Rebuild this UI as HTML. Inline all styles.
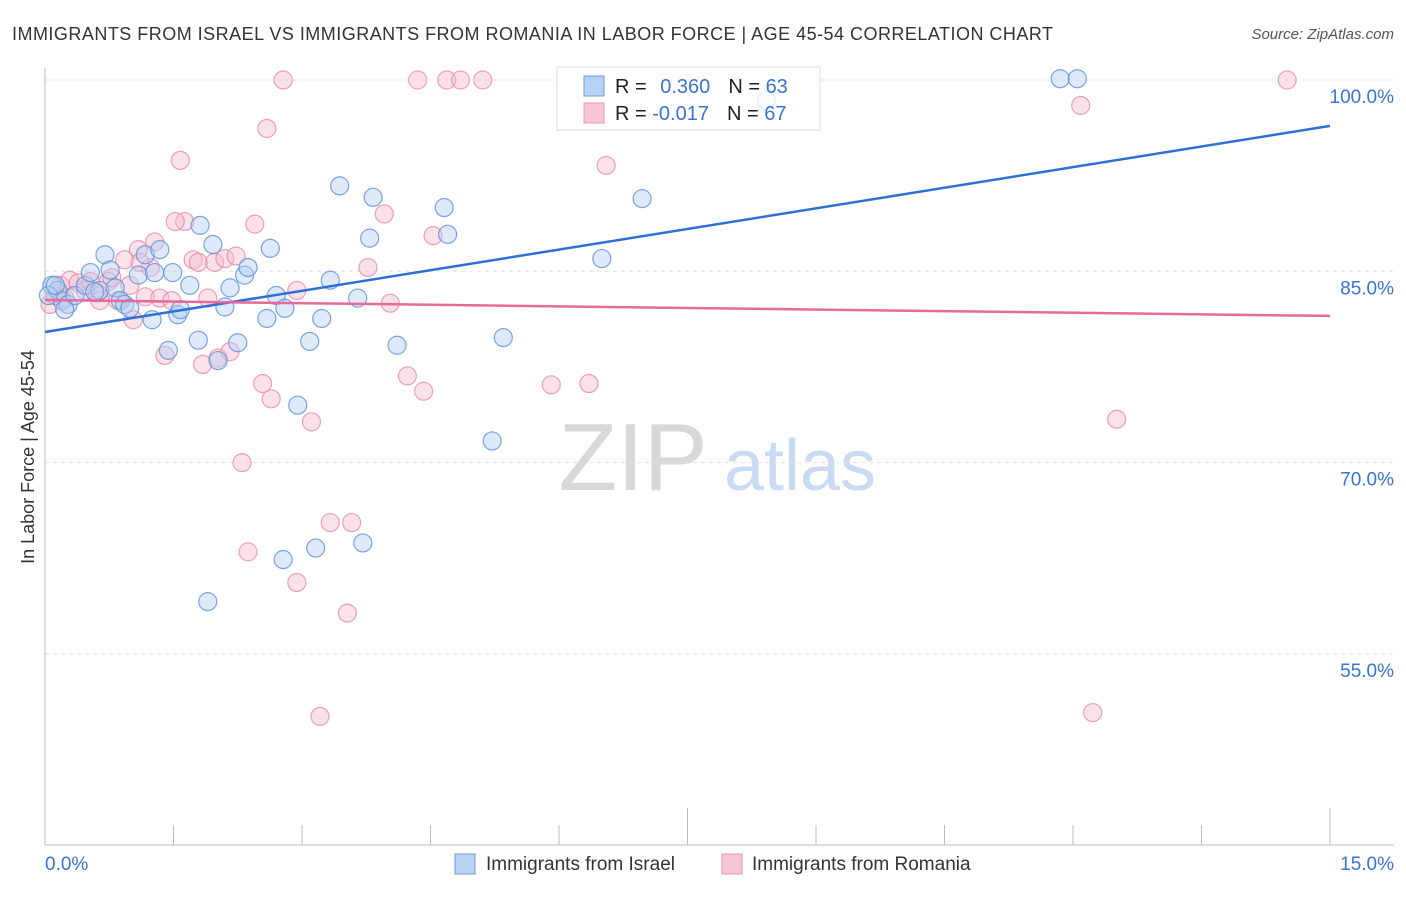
<!DOCTYPE html>
<html><head><meta charset="utf-8"><style>
body{margin:0;background:#fff;font-family:"Liberation Sans",sans-serif}
svg text{font-family:"Liberation Sans",sans-serif}
</style></head><body>
<svg id="chart" width="1406" height="892" xmlns="http://www.w3.org/2000/svg">
<text x="12" y="40" font-size="18" fill="#333" textLength="1041" lengthAdjust="spacing">IMMIGRANTS FROM ISRAEL VS IMMIGRANTS FROM ROMANIA IN LABOR FORCE | AGE 45-54 CORRELATION CHART</text>
<text x="1394" y="39" font-size="15" fill="#555" font-style="italic" text-anchor="end">Source: ZipAtlas.com</text>
<g>
<text x="633" y="490" font-size="96" fill="#d8d8d8" font-family="Liberation Serif" text-anchor="middle">ZIP</text>
<text x="800" y="490" font-size="72" fill="#c9daf2" text-anchor="middle">atlas</text>
</g>
<g id="grid"></g>
<g id="axes"></g>
<g id="points"></g>
<g id="lines"></g>
<text transform="translate(34,457) rotate(-90)" font-size="18" fill="#333" text-anchor="middle">In Labor Force | Age 45-54</text>
<text x="45" y="870" font-size="19" fill="#3a74d0">0.0%</text>
<text x="1394" y="870" font-size="19" fill="#3a74d0" text-anchor="end">15.0%</text>
<g>
<rect x="557" y="67" width="263" height="63" fill="#fff" fill-opacity="0.8" stroke="#ddd"/>
<rect x="584" y="76" width="20" height="20" fill="#b8d2f4" stroke="#6d9be0"/>
<rect x="584" y="103" width="20" height="20" fill="#f8c6d6" stroke="#eb96b3"/>
<text x="615" y="93" font-size="20" fill="#222">R = <tspan fill="#3a74d0" dx="8">0.360</tspan><tspan dx="18" fill="#222">N = </tspan><tspan fill="#3a74d0">63</tspan></text>
<text x="615" y="120" font-size="20" fill="#222">R = <tspan fill="#3a74d0">-0.017</tspan><tspan dx="18" fill="#222">N = </tspan><tspan fill="#3a74d0">67</tspan></text>
</g>
<g>
<rect x="455" y="854" width="20" height="20" fill="#b8d2f4" stroke="#6d9be0"/>
<text x="486" y="870" font-size="19" fill="#333">Immigrants from Israel</text>
<rect x="722" y="854" width="20" height="20" fill="#f8c6d6" stroke="#eb96b3"/>
<text x="752" y="870" font-size="19" fill="#333">Immigrants from Romania</text>
</g>
</svg>
<script>
const yTicks=[100,85,70,55];
const yTickLabels=["100.0%","85.0%","70.0%","55.0%"];
const israelX=[.08,.15,.20,.27,.35,.47,.53,.64,.70,.76,.82,.88,.93,.99,1.09,1.17,1.25,1.28,1.34,1.44,1.49,1.55,1.58,1.69,1.79,1.81,1.90,1.96,2.02,2.10,2.16,2.25,2.33,2.37,2.59,2.63,2.70,2.80,2.78,2.95,3.09,3.16,3.23,3.33,3.44,3.65,3.71,3.79,3.83,4.11,4.66,4.70,5.22,5.35,6.50,6.97,8.42,11.85,12.05,.23,.04,.12,.58];
const israelY=[83.9,83.5,82.7,82.4,83.1,83.9,84.9,83.5,86.3,85.1,83.7,82.7,82.4,82.1,84.7,86.3,81.2,84.9,86.7,78.8,84.9,81.6,82.0,83.9,79.6,88.6,59.1,87.1,78.0,82.2,83.7,79.4,84.7,85.3,81.3,86.8,83.1,82.1,62.4,74.5,79.5,63.3,81.3,84.3,91.7,82.9,63.7,87.6,90.8,79.2,90.0,87.9,71.7,79.8,86.0,90.7,98.4,100.1,100.1,82.0,83.1,83.9,83.4];
const romaniaX=[.06,.12,.18,.29,.39,.47,.61,.74,.85,.93,.99,1.03,1.09,1.17,1.23,1.28,1.34,1.40,1.48,1.58,1.63,1.73,1.79,1.84,1.90,1.98,2.02,2.10,2.16,2.23,2.30,2.37,2.45,2.54,2.59,2.64,2.78,2.94,2.94,3.11,3.21,3.33,3.53,3.58,3.77,3.96,4.03,4.23,4.35,4.42,4.53,4.69,4.85,5.11,5.91,6.35,6.55,12.09,12.23,12.51,14.50,.23,.53,.78,1.11,.64,1.52];
const romaniaY=[82.4,83.1,83.9,84.3,84.1,83.5,83.3,84.2,82.7,85.9,83.9,81.2,86.7,83.0,85.3,87.3,82.9,78.4,82.7,93.7,88.9,85.9,85.7,77.7,82.9,85.7,78.2,86.0,78.7,86.2,70.0,63.0,88.7,76.2,96.2,75.0,100,83.5,60.6,73.2,50.1,65.3,58.2,65.3,85.3,89.5,82.5,76.8,100,75.6,87.8,100,100,100,76.1,76.2,93.3,98.0,50.4,73.4,100,82.9,84.2,84.5,85.7,82.7,88.9];
const israelTrend=[80.24,96.4];
const romaniaTrend=[82.75,81.5];
const xDomain=[0,15];
const NS="http://www.w3.org/2000/svg";
const X=v=>45+(v-xDomain[0])/(xDomain[1]-xDomain[0])*1285;
const Y=v=>80+(100-v)/15*191.3;
function mk(tag,attrs,parent){const e=document.createElementNS(NS,tag);for(const k in attrs)e.setAttribute(k,attrs[k]);parent.appendChild(e);return e;}
const grid=document.getElementById('grid'),axes=document.getElementById('axes'),pts=document.getElementById('points'),lines=document.getElementById('lines');
yTicks.forEach((t,i)=>{
  const l=mk('line',{x1:45,x2:1394,y1:Y(t),y2:Y(t),stroke:'#e2e2e2','stroke-dasharray':'4 4'},grid);
  
  
  const tx=mk('text',{x:1394,y:Y(t)+23,'font-size':19,fill:'#3a74d0','text-anchor':'end'},grid);
  tx.textContent=yTickLabels[i];
  
  
});
const ya=mk('line',{x1:45,x2:45,y1:68,y2:845,stroke:'#bbb'},axes);


const xa=mk('line',{x1:45,x2:1394,y1:845,y2:845,stroke:'#bbb'},axes);


for(let i=0;i<=10;i++){
  const v=i*1.5;const long=(i==5||i==10);
  const t=mk('line',{x1:X(v),x2:X(v),y1:long?808:825,y2:845,stroke:'#bbb'},axes);
  
  
}
function series(xs,ys,fill,stroke,name){
  xs.forEach((x,i)=>{
    const c=mk('circle',{cx:X(x),cy:Y(ys[i]),r:9,fill:fill,'fill-opacity':0.45,stroke:stroke,'stroke-opacity':0.8,'stroke-width':1.2},pts);
    
    
  });
}
series(romaniaX,romaniaY,'#f6bdd0','#e98aa8','romania-point');
series(israelX,israelY,'#b6cff2','#5b8fd9','israel-point');
const bl=mk('line',{x1:X(0),y1:Y(israelTrend[0]),x2:X(15),y2:Y(israelTrend[1]),stroke:'#2d6fd6','stroke-width':2.5},lines);


const pl=mk('line',{x1:X(0),y1:Y(romaniaTrend[0]),x2:X(15),y2:Y(romaniaTrend[1]),stroke:'#e8699a','stroke-width':2.5},lines);


</script>
</body></html>
